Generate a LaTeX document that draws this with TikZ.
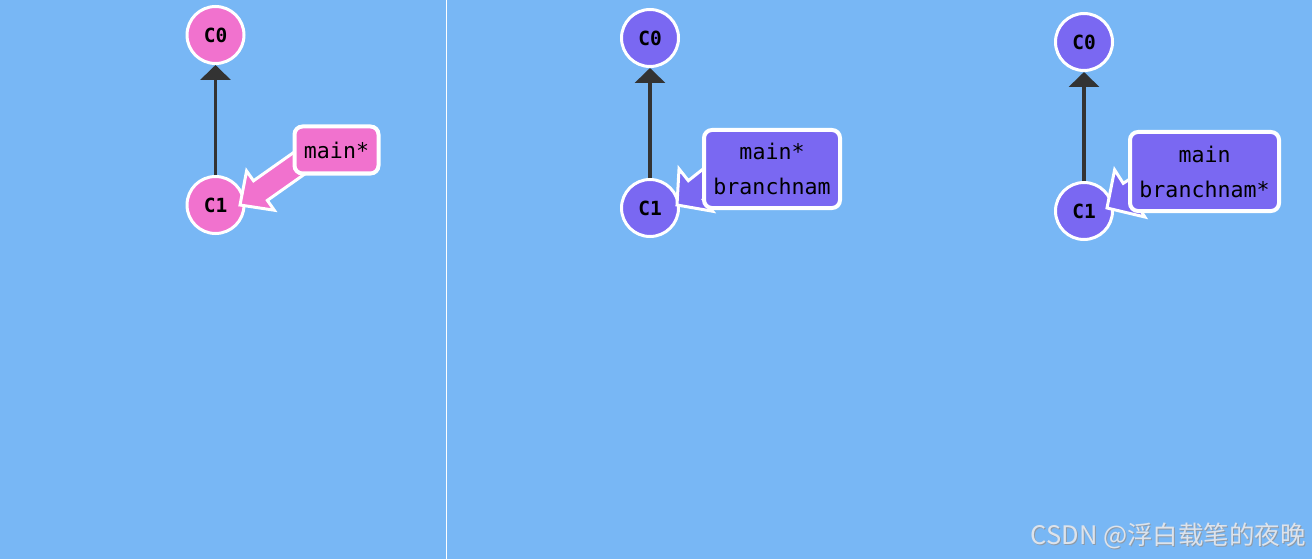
\documentclass[tikz,border=0pt]{standalone}
\usepackage{fontspec}
\setmonofont{DejaVu Sans Mono}
\newfontfamily\cjkfont{Noto Sans CJK SC}
\usetikzlibrary{arrows.meta,calc}
\definecolor{bgblue}{HTML}{78B7F5}
\definecolor{cpink}{HTML}{F172CE}
\definecolor{cpurple}{HTML}{7A68F2}
\definecolor{edgegray}{HTML}{333333}
\definecolor{wmark}{HTML}{DDE3EB}
\definecolor{wshadow}{HTML}{8E9AA8}
\tikzset{
  commit/.style={circle, fill=#1, draw=white, line width=3pt, minimum size=57pt, inner sep=0pt,
    font=\fontsize{19.5}{20}\selectfont\ttfamily\bfseries},
  branchbox/.style={rectangle, rounded corners=8pt, fill=#1, draw=white, line width=4pt, inner sep=0pt,
    align=center, font=\fontsize{21.6}{35}\selectfont\ttfamily},
  parent/.style={draw=edgegray, line width=3.5pt, -{Triangle[width=30pt,length=15pt]}},
}
\newcommand\fatarrowto[6]{% #1 start, #2 tip, #3 head length, #4 half shaft, #5 half wings, #6 colour
  \coordinate (fa-B) at ($(#2)!#3!(#1)$);
  \path[fill=#6, draw=white, line width=3pt, line join=miter]
    ($(#1)!#4!90:(#2)$) -- ($(fa-B)!#4!90:(#2)$) -- ($(fa-B)!#5!90:(#2)$) -- (#2)
    -- ($(fa-B)!#5!-90:(#2)$) -- ($(fa-B)!#4!-90:(#2)$) -- ($(#1)!#4!-90:(#2)$) -- cycle;
}
\begin{document}
\begin{tikzpicture}[x=1pt,y=-1pt]
\fill[bgblue] (0,0) rectangle (1312,559);
\useasboundingbox (0,0) rectangle (1312,559);
\draw[white, line width=1.5pt] (446.5,0) -- (446.5,559);

% ---------- panel 1 ----------
\node[commit=cpink] (a0) at (215.5,35) {C0};
\node[commit=cpink] (a1) at (215.5,205) {C1};
\draw[parent] (a1) -- (a0);
\coordinate (aS) at (318,150);
\coordinate (aT) at (240,205);
\fatarrowto{aS}{aT}{25pt}{12pt}{24pt}{cpink}
\node[branchbox=cpink, minimum width=84pt, minimum height=47pt] (am) at (336.5,150) {main*};

% ---------- panel 2 ----------
\node[commit=cpurple] (b0) at (650,38) {C0};
\node[commit=cpurple] (b1) at (650,208) {C1};
\draw[parent] (b1) -- (b0);
\coordinate (bS) at (740,155);
\coordinate (bT) at (677,205);
\fatarrowto{bS}{bT}{24pt}{12pt}{27pt}{cpurple}
\node[branchbox=cpurple, minimum width=136pt, minimum height=78pt] (bm) at (772,169) {main*\\branchnam};

% ---------- panel 3 ----------
\node[commit=cpurple] (c0) at (1084,42) {C0};
\node[commit=cpurple] (c1) at (1084,211) {C1};
\draw[parent] (c1) -- (c0);
\coordinate (cS) at (1174,165);
\coordinate (cT) at (1107,208);
\fatarrowto{cS}{cT}{27pt}{12pt}{28pt}{cpurple}
\node[branchbox=cpurple, minimum width=149pt, minimum height=79pt] (cm) at (1204.5,171.5) {main\\branchnam*};

% watermark
\node[anchor=east, inner sep=0pt, text=wshadow, font=\fontsize{25.5}{27}\selectfont\cjkfont] at (1307,537) {CSDN @浮白载笔的夜晚};
\node[anchor=east, inner sep=0pt, text=wmark, font=\fontsize{25.5}{27}\selectfont\cjkfont] (wm) at (1306,536) {CSDN @浮白载笔的夜晚};
\end{tikzpicture}
\end{document}
